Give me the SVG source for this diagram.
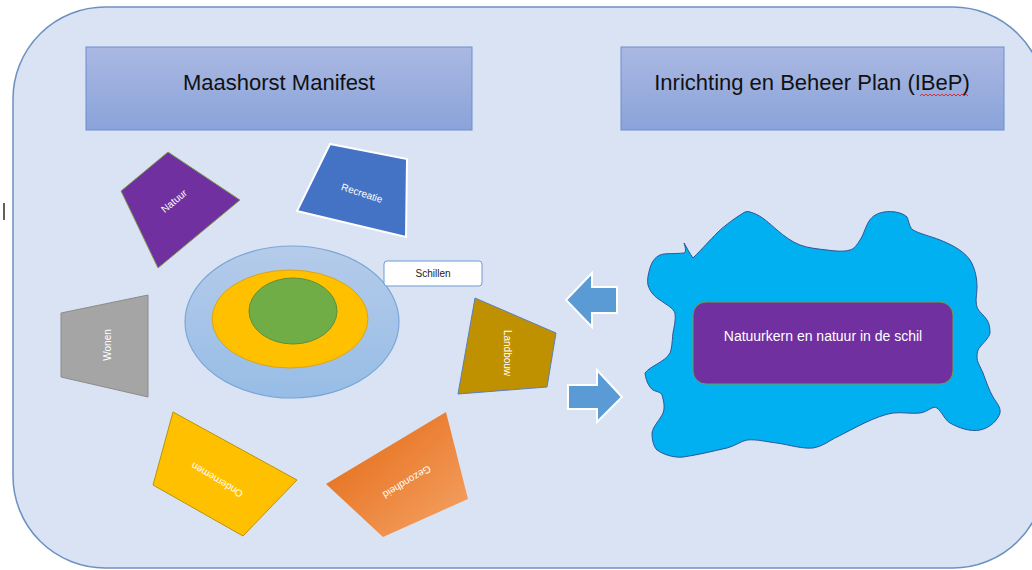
<svg xmlns="http://www.w3.org/2000/svg" width="1032" height="570" viewBox="0 0 1032 570">
  <defs>
    <linearGradient id="hdr" x1="0" y1="0" x2="0" y2="1">
      <stop offset="0" stop-color="#aab8e2"/>
      <stop offset="1" stop-color="#8aa3da"/>
    </linearGradient>
    <linearGradient id="bigc" x1="0" y1="0" x2="0" y2="1">
      <stop offset="0" stop-color="#b5cbea"/>
      <stop offset="1" stop-color="#97bde6"/>
    </linearGradient>
    <linearGradient id="orange" x1="0" y1="0" x2="1" y2="1">
      <stop offset="0" stop-color="#e3660e"/>
      <stop offset="1" stop-color="#f5a468"/>
    </linearGradient>
    <style>
      .hdr { fill: url(#hdr); stroke: #6d8ed0; stroke-width: 1; }
      .htxt { font-family: "Liberation Sans", Arial, sans-serif; font-size: 22px; fill: #111111; text-anchor: middle; }
      .stxt { font-family: "Liberation Sans", Arial, sans-serif; font-size: 10px; fill: #ffffff; text-anchor: middle; dominant-baseline: central; }
      .arrow { fill: #5b9bd5; stroke: #ffffff; stroke-width: 2; }
    </style>
  </defs>

  <rect x="0" y="0" width="1032" height="570" fill="#ffffff"/>

  <g id="frame">
    <rect x="13" y="7" width="1032" height="561" rx="92" ry="92" fill="#dae3f3" stroke="#6c91c2" stroke-width="1.5"/>
    <rect x="3" y="203" width="2" height="17" fill="#606060"/>
  </g>

  <g id="maashorst-manifest">
    <rect class="hdr" x="86" y="47" width="386" height="83"/>
    <text class="htxt" x="279" y="90">Maashorst Manifest</text>
  </g>

  <g id="ibep">
    <rect class="hdr" x="621" y="47" width="383" height="83"/>
    <text class="htxt" x="812" y="90">Inrichting en Beheer Plan (IBeP)</text>
    <path d="M920 96 l2 -2 l2 2 l2 -2 l2 2 l2 -2 l2 2 l2 -2 l2 2 l2 -2 l2 2 l2 -2 l2 2 l2 -2 l2 2 l2 -2 l2 2 l2 -2 l2 2 l2 -2 l2 2 l2 -2 l2 2 l2 -2 l2 2" fill="none" stroke="#e02020" stroke-width="0.9"/>
  </g>

  <g id="natuur">
    <polygon points="121,191 168,152 240,200 158,268" fill="#7030a0" stroke="#7f9f4f" stroke-width="1"/>
    <text class="stxt" transform="translate(174,201) rotate(-40)">Natuur</text>
  </g>

  <g id="recreatie">
    <polygon points="330,144 407,159 406,237 297,211" fill="#4472c4" stroke="#ffffff" stroke-width="2"/>
    <text class="stxt" transform="translate(362,193) rotate(18)">Recreatie</text>
  </g>

  <g id="wonen">
    <polygon points="61,313 148,295 148,397 61,377" fill="#a5a5a5" stroke="#8c8c8c" stroke-width="1"/>
    <text class="stxt" transform="translate(107,345) rotate(-90)">Wonen</text>
  </g>

  <g id="landbouw">
    <polygon points="475,298 556,333 547,387 458,394" fill="#bf9000" stroke="#5b7fbf" stroke-width="1"/>
    <text class="stxt" transform="translate(507,353) rotate(90)">Landbouw</text>
  </g>

  <g id="ondernemen">
    <polygon points="173,412 297,480 243,536 153,485" fill="#ffc000" stroke="#b8930a" stroke-width="1"/>
    <text class="stxt" transform="translate(217,480) rotate(211)">Ondernemen</text>
  </g>

  <g id="gezondheid">
    <polygon points="326,484 446,412 468,499 383,537" fill="url(#orange)"/>
    <text class="stxt" transform="translate(407,482) rotate(149)">Gezondheid</text>
  </g>

  <g id="schillen-circles">
    <ellipse cx="292" cy="322" rx="107" ry="76" fill="url(#bigc)" stroke="#7aa6d8" stroke-width="1.2"/>
    <ellipse cx="290" cy="319" rx="78" ry="49" fill="#ffc000" stroke="#d9a41a" stroke-width="1"/>
    <ellipse cx="293" cy="311" rx="44" ry="33" fill="#70ad47" stroke="#5a8f3a" stroke-width="1"/>
  </g>

  <g id="schillen-label">
    <rect x="384" y="261" width="98" height="25" rx="3" fill="#ffffff" stroke="#6f9bd8" stroke-width="1"/>
    <text x="433" y="273" font-family="'Liberation Sans', Arial, sans-serif" font-size="10" fill="#222222" text-anchor="middle" dominant-baseline="central">Schillen</text>
  </g>

  <g id="connectors">
    <polygon class="arrow" points="566,300 592,273 592,287 617,287 617,313 592,313 592,327"/>
    <polygon class="arrow" points="568,385 597,385 597,370 622,397 597,422 597,409 568,409"/>
  </g>

  <g id="natuurkern">
    <path d="M745,212 C738,216 725,225 717,233 C710,240 703,248 693,258 C690,254 687,248 684,243 C686,249 686,252 684,253 C675,254 664,253 660,255 C654,258 652,262 650,268 C648,275 647,280 648,285 C650,292 655,297 660,300 C667,305 673,308 675,313 C676,320 674,327 673,333 C672,342 672,348 670,353 C665,362 650,366 645,373 C646,382 650,388 653,390 C657,392 661,392 662,395 C664,402 665,408 663,413 C660,420 653,426 652,433 C652,441 654,447 657,450 C664,455 675,458 683,457 C698,455 713,451 727,448 C735,446 741,441 747,440 C757,439 767,442 777,443 C790,445 802,449 813,448 C824,446 830,440 837,437 C855,428 875,416 893,413 C902,412 912,414 920,413 C928,412 933,405 937,408 C942,412 945,420 950,423 C959,428 970,432 980,430 C990,428 998,420 1000,413 C1001,407 996,402 993,397 C989,390 986,381 983,373 C980,366 977,362 977,357 C977,352 978,349 980,347 C984,342 989,338 990,333 C990,327 989,323 987,320 C984,315 978,311 977,307 C975,300 977,294 977,287 C977,278 975,268 970,260 C963,250 950,244 940,240 C930,236 920,234 913,230 C909,227 909,221 907,217 C902,212 890,210 880,213 C873,215 869,220 867,225 C864,231 863,236 860,240 C857,245 854,249 850,250 C843,252 835,251 827,250 C818,249 808,248 800,245 C792,242 784,236 777,230 C770,224 762,216 753,213 C750,212 748,211 745,212 Z" fill="#00b0f0" stroke="#2f5597" stroke-width="1"/>
    <rect x="693" y="302" width="260" height="82" rx="13" ry="13" fill="#7030a0" stroke="#6f9f4f" stroke-width="1"/>
    <text x="823" y="336" font-family="'Liberation Sans', Arial, sans-serif" font-size="14" fill="#ffffff" text-anchor="middle" dominant-baseline="central">Natuurkern en natuur in de schil</text>
  </g>
</svg>
